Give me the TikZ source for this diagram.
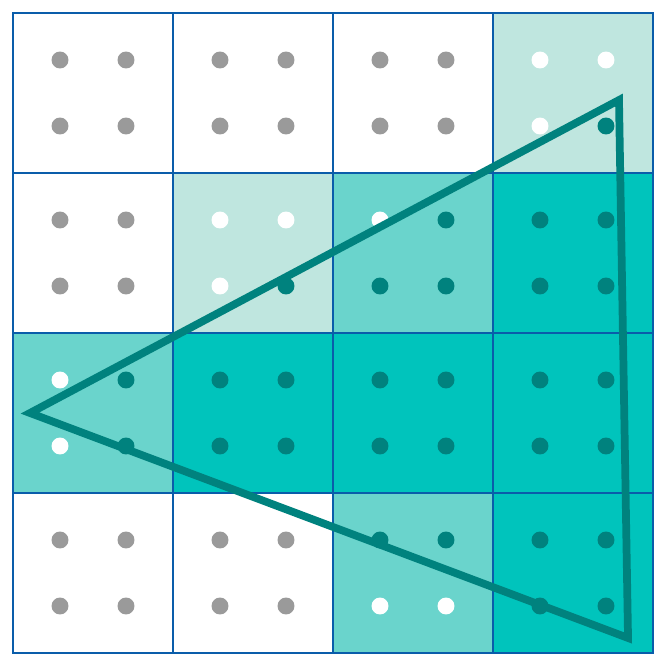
\documentclass[tikz,border=0pt]{standalone}
\usepackage{tikz}
\definecolor{colRejilla}{HTML}{0A5DAA}
\definecolor{colClara}{HTML}{BFE6DF}
\definecolor{colMedia}{HTML}{6AD4CC}
\definecolor{colLlena}{HTML}{00C4BC}
\definecolor{colOscuro}{HTML}{00827E}
\definecolor{colGris}{HTML}{9A9A9A}

\begin{document}
\begin{tikzpicture}[
        x=1.6cm, y=1.6cm,
        celdaVacia/.style={fill=white},
        celdaClara/.style={fill=colClara},
        celdaMedia/.style={fill=colMedia},
        celdaLlena/.style={fill=colLlena},
        rejilla/.style={draw=colRejilla, line width=0.8pt},
        puntoGris/.style={fill=colGris},
        puntoBlanco/.style={fill=white},
        puntoOscuro/.style={fill=colOscuro},
        triangulo/.style={draw=colOscuro, line width=2.2pt, line join=miter}
    ]
        \useasboundingbox (-0.08125,-0.08125) rectangle (4.08125,4.08125);

        % Celdas (columna / fila desde abajo / cobertura)
        \foreach \c/\f/\estilo in {0/3/celdaVacia, 1/3/celdaVacia, 2/3/celdaVacia, 3/3/celdaClara,
                                   0/2/celdaVacia, 1/2/celdaClara, 2/2/celdaMedia, 3/2/celdaLlena,
                                   0/1/celdaMedia, 1/1/celdaLlena, 2/1/celdaLlena, 3/1/celdaLlena,
                                   0/0/celdaVacia, 1/0/celdaVacia, 2/0/celdaMedia, 3/0/celdaLlena}
            \fill[\estilo] (\c,\f) rectangle ++(1,1);

        % Rejilla
        \draw[rejilla, step=1.6cm] (0,0) grid (4,4);
        \draw[rejilla] (0,0) rectangle (4,4);

        % Muestras (sup. izq. / sup. der. / inf. izq. / inf. der.)
        \foreach \c/\f/\si/\sd/\ii/\id in {
            0/3/puntoGris/puntoGris/puntoGris/puntoGris,
            1/3/puntoGris/puntoGris/puntoGris/puntoGris,
            2/3/puntoGris/puntoGris/puntoGris/puntoGris,
            3/3/puntoBlanco/puntoBlanco/puntoBlanco/puntoOscuro,
            0/2/puntoGris/puntoGris/puntoGris/puntoGris,
            1/2/puntoBlanco/puntoBlanco/puntoBlanco/puntoOscuro,
            2/2/puntoBlanco/puntoOscuro/puntoOscuro/puntoOscuro,
            3/2/puntoOscuro/puntoOscuro/puntoOscuro/puntoOscuro,
            0/1/puntoBlanco/puntoOscuro/puntoBlanco/puntoOscuro,
            1/1/puntoOscuro/puntoOscuro/puntoOscuro/puntoOscuro,
            2/1/puntoOscuro/puntoOscuro/puntoOscuro/puntoOscuro,
            3/1/puntoOscuro/puntoOscuro/puntoOscuro/puntoOscuro,
            0/0/puntoGris/puntoGris/puntoGris/puntoGris,
            1/0/puntoGris/puntoGris/puntoGris/puntoGris,
            2/0/puntoOscuro/puntoOscuro/puntoBlanco/puntoBlanco,
            3/0/puntoOscuro/puntoOscuro/puntoOscuro/puntoOscuro}
        {
            \fill[\si] (\c+0.29375,\f+0.70625) circle (0.053);
            \fill[\sd] (\c+0.70625,\f+0.70625) circle (0.053);
            \fill[\ii] (\c+0.29375,\f+0.29375) circle (0.053);
            \fill[\id] (\c+0.70625,\f+0.29375) circle (0.053);
        }

        % Triangulo
        \coordinate (vSup) at (3.7875,3.456);
        \coordinate (vIzq) at (0.10625,1.5);
        \coordinate (vInf) at (3.844,0.094);
        \draw[triangulo] (vSup) -- (vIzq) -- (vInf) -- cycle;
    \end{tikzpicture}
\end{document}
